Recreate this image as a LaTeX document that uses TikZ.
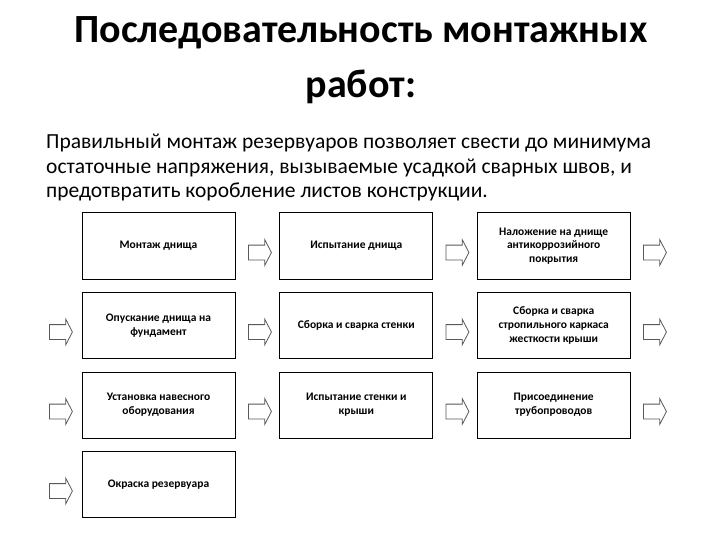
\documentclass[tikz,border=0pt]{standalone}
\usepackage{fontspec}
\setmainfont{Carlito}
\usetikzlibrary{shapes.arrows}
\tikzset{
  stage/.style={draw, line width=1pt, minimum width=153pt, minimum height=66pt,
    align=center, inner sep=2pt, font=\bfseries\fontsize{11.5}{13.8}\selectfont},
  flow/.style={single arrow, draw=black!65, fill=white, line width=0.8pt,
    minimum height=23pt, inner xsep=0pt, inner ysep=7pt,
    single arrow head extend=5.5pt, single arrow tip angle=125},
  heading/.style={anchor=base, font=\bfseries\fontsize{40}{48}\selectfont},
  intro/.style={anchor=base west, font=\fontsize{21.5}{26}\selectfont}
}
\begin{document}
\begin{tikzpicture}[x=1pt,y=-1pt]
	\useasboundingbox (0,0) rectangle (720,540);
	% title and text
	\node[heading] (title1) at (361,43) {Последовательность монтажных};
	\node[heading] (title2) at (361,98) {работ:};
	\node[intro] (line1) at (42.7,149) {Правильный монтаж резервуаров позволяет свести до минимума};
	\node[intro] (line2) at (42.7,174) {остаточные напряжения, вызываемые усадкой сварных швов, и};
	\node[intro] (line3) at (42.7,198) {предотвратить коробление листов конструкции.};
	% stages
	\node[stage] (s1) at (158.5,246) {Монтаж днища};
	\node[stage] (s2) at (356.3,246) {Испытание днища};
	\node[stage] (s3) at (553.7,246) {Наложение на днище\\антикоррозийного\\покрытия};
	\node[stage] (s4) at (158.5,325.5) {Опускание днища на\\фундамент};
	\node[stage] (s5) at (356.3,325.5) {Сборка и сварка стенки};
	\node[stage] (s6) at (553.7,325.5) {Сборка и сварка\\стропильного каркаса\\жесткости крыши};
	\node[stage] (s7) at (158.5,405) {Установка навесного\\оборудования};
	\node[stage] (s8) at (356.3,405) {Испытание стенки и\\крыши};
	\node[stage] (s9) at (553.7,405) {Присоединение\\трубопроводов};
	\node[stage] (s10) at (158.5,484.7) {Окраска резервуара};
	% arrows
	\foreach \x [count=\i] in {258,455.5,653}
		\node[flow] (a1-\i) at (\x,252.5) {};
	\foreach \y [count=\j from 2] in {332,411.5}
		\foreach \x [count=\i] in {59,258,455.5,653}
			\node[flow] (a\j-\i) at (\x,\y) {};
	\node[flow] (a4-1) at (59,491) {};
\end{tikzpicture}
\end{document}
